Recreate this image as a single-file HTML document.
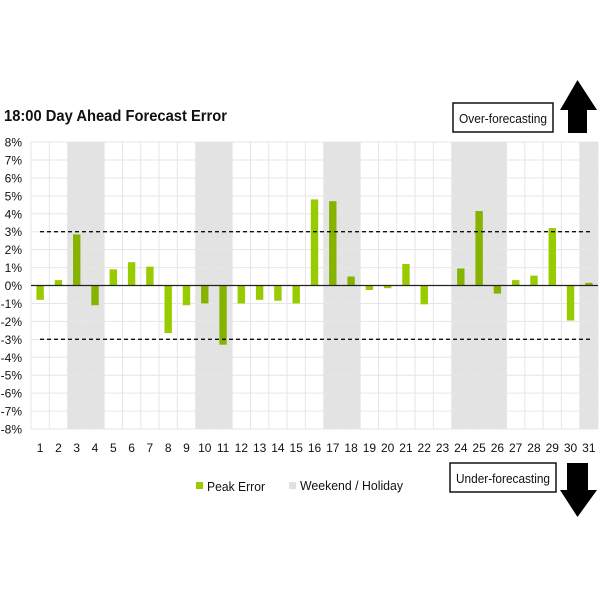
<!DOCTYPE html>
<html><head><meta charset="utf-8"><style>body{margin:0;background:#fff}svg{display:block}text{font-family:"Liberation Sans",Arial,sans-serif}</style></head>
<body>
<svg width="600" height="600" viewBox="0 0 600 600" xmlns="http://www.w3.org/2000/svg">
<text x="4" y="121" font-size="16" font-weight="bold" fill="#111" textLength="223" lengthAdjust="spacingAndGlyphs">18:00 Day Ahead Forecast Error</text>
<g id="g"></g>
<rect x="453" y="103" width="100" height="29" fill="#fff" stroke="#111" stroke-width="1.5"/>
<text x="503" y="123" font-size="13" text-anchor="middle" fill="#111" textLength="88" lengthAdjust="spacingAndGlyphs">Over-forecasting</text>
<polygon points="568,133 587,133 587,110 597,110 577.5,80 560,110 568,110" fill="#000"/>
<rect x="450" y="463" width="106" height="29" fill="#fff" stroke="#111" stroke-width="1.5"/>
<text x="503" y="483" font-size="13" text-anchor="middle" fill="#111" textLength="94" lengthAdjust="spacingAndGlyphs">Under-forecasting</text>
<polygon points="567,463 588,463 588,490 597,490 577.5,517 560,490 567,490" fill="#000"/>
<rect x="196" y="482" width="7" height="7" fill="#99cc00"/>
<text x="207" y="491" font-size="13" fill="#111" textLength="58" lengthAdjust="spacingAndGlyphs">Peak Error</text>
<rect x="289" y="482" width="7" height="7" fill="#e0e0e0"/>
<text x="300" y="490" font-size="13" fill="#111" textLength="103" lengthAdjust="spacingAndGlyphs">Weekend / Holiday</text>
</svg>
<script>
const g=document.getElementById('g');let s='';
const L=31,R=598,T=142,B=429,W=(R-L)/31,u=(B-T)/16,z=T+8*u;
const wk=[3,4,10,11,17,18,24,25,26,31];
const v=[-0.8,0.3,2.85,-1.1,0.9,1.3,1.05,-2.65,-1.1,-1.0,-3.3,-1.0,-0.8,-0.85,-1.0,4.8,4.7,0.5,-0.25,-0.15,1.2,-1.05,0.03,0.95,4.15,-0.45,0.3,0.55,3.2,-1.95,0.15];
wk.forEach(d=>{s+=`<rect x="${L+(d-1)*W}" y="${T}" width="${W}" height="${B-T}" fill="#e3e3e3"/>`});
for(let i=0;i<=16;i++){const y=T+i*u;s+=`<line x1="${L}" x2="${R}" y1="${y}" y2="${y}" stroke="#e6e6e6" stroke-width="1"/>`;
s+=`<text x="22" y="${y+4.5}" font-size="12" text-anchor="end" fill="#111">${8-i}%</text>`;}
for(let i=0;i<=31;i++){const x=L+i*W;s+=`<line x1="${x}" x2="${x}" y1="${T}" y2="${B}" stroke="#e6e6e6" stroke-width="1"/>`;}
for(let i=0;i<31;i++){const d=i+1,cx=L+(i+0.5)*W,h=v[i]*u;const c=wk.includes(d)?'#86b300':'#99cc00';
s+=`<rect x="${cx-3.7}" y="${h>0?z-h:z}" width="7.4" height="${Math.abs(h)}" fill="${c}"/>`;
s+=`<text x="${cx}" y="452" font-size="12" text-anchor="middle" fill="#111">${d}</text>`;}
s+=`<line x1="${L}" x2="${R}" y1="${z}" y2="${z}" stroke="#222" stroke-width="1.2"/>`;
[3,-3].forEach(k=>{const y=z-k*u;s+=`<line x1="40" x2="590" y1="${y}" y2="${y}" stroke="#111" stroke-width="1.3" stroke-dasharray="4,3"/>`});
g.innerHTML=s;
</script>
</body></html>
